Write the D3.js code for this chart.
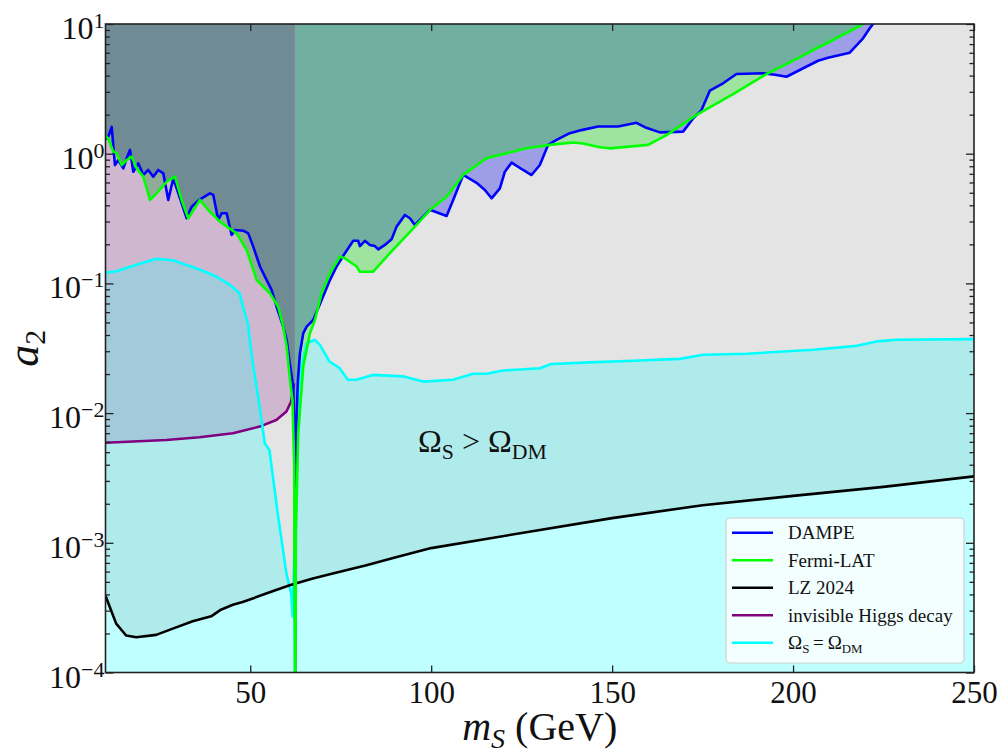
<!DOCTYPE html>
<html lang="en">

<head>
  <title>Scalar singlet a2 constraints</title>
  <meta charset="UTF-8">
  <script src="https://cdn.jsdelivr.net/npm/d3@7"></script>
  <style>
    body {
      margin: 0;
      background: #fff;
    }

    svg {
      display: block;
      font-family: "Liberation Serif", "Times New Roman", "DejaVu Serif", serif;
    }
  </style>
</head>

<body>
  <div id="container"></div>
  <script>
    // curves: [m_S (GeV), a2]
    const dampe = [
      [10.0, 1.30], [10.77, 1.35], [11.71, 1.61], [12.62, 0.818], [13.54, 0.893], [14.92, 0.771],
      [15.86, 0.922], [16.77, 1.07], [17.68, 0.726], [19.06, 0.843], [20.44, 0.686], [21.82, 0.749],
      [23.20, 0.665], [24.59, 0.749], [25.97, 0.706], [27.35, 0.440], [28.73, 0.646], [31.05, 0.415],
      [32.43, 0.318], [33.81, 0.390], [36.10, 0.445], [38.87, 0.495], [39.78, 0.481], [41.16, 0.308],
      [42.10, 0.347], [43.48, 0.347], [44.86, 0.236], [45.77, 0.258], [48.07, 0.255], [49.45, 0.243],
      [50.83, 0.192], [52.68, 0.135], [54.53, 0.106], [55.91, 0.0889], [57.29, 0.0661], [59.12, 0.0463],
      [60.06, 0.0366], [60.97, 0.0235], [61.88, 0.0160], [62.07, 0.0094], [62.35, 0.0043], [62.43, 8e-5],
      [62.54, 0.0043], [62.76, 0.0089], [63.18, 0.018], [63.73, 0.0289], [64.64, 0.0412], [65.58, 0.0464],
      [67.40, 0.0522], [69.72, 0.0745], [72.02, 0.106], [73.87, 0.135], [76.16, 0.171], [78.45, 0.213],
      [79.83, 0.213], [80.30, 0.194], [81.68, 0.213], [83.07, 0.198], [84.45, 0.194], [85.36, 0.183],
      [87.21, 0.198], [89.06, 0.219], [90.44, 0.274], [92.73, 0.337], [94.12, 0.318], [95.50, 0.282],
      [99.64, 0.368], [100.55, 0.362], [104.25, 0.331], [106.08, 0.440], [108.84, 0.686], [112.54, 0.597],
      [114.83, 0.525], [116.69, 0.453], [118.98, 0.541], [120.36, 0.726], [122.21, 0.853], [125.41, 0.749],
      [127.73, 0.685], [130.03, 0.818], [132.32, 1.17], [134.64, 1.28], [138.31, 1.44], [141.55, 1.52],
      [146.13, 1.62], [151.66, 1.62], [156.74, 1.73], [159.03, 1.60], [163.18, 1.46], [169.61, 1.48],
      [172.38, 1.87], [174.70, 2.17], [176.99, 3.06], [180.66, 3.49], [184.36, 4.12], [191.71, 4.17],
      [195.41, 4.04], [198.18, 3.92], [201.85, 4.42], [206.91, 5.21], [209.67, 5.49], [215.66, 6.01],
      [219.34, 7.76], [221.19, 9.27], [222.10, 10.0], [222.8, 11.0]
    ];

    const fermi = [
      [10.0, 1.38], [10.8, 1.30], [12.15, 1.04], [13.09, 1.01], [14.48, 0.818], [15.86, 0.894],
      [17.24, 0.948], [18.62, 0.771], [20.44, 0.665], [22.29, 0.440], [24.14, 0.495], [26.91, 0.608],
      [29.20, 0.665], [31.05, 0.440], [32.87, 0.318], [36.10, 0.440], [38.40, 0.368], [41.63, 0.299],
      [46.24, 0.243], [49.01, 0.181], [51.77, 0.106], [54.53, 0.0889], [55.44, 0.0839], [57.73, 0.0661],
      [59.12, 0.0463], [60.06, 0.0325], [60.97, 0.0180], [61.66, 0.0126], [62.15, 0.00386], [62.35, 8e-5],
      [62.49, 8e-5], [62.62, 0.00119], [63.26, 0.00698], [64.64, 0.0228], [66.49, 0.0412], [67.87, 0.0522],
      [69.72, 0.0839], [72.02, 0.120], [74.78, 0.161], [76.16, 0.156], [79.39, 0.135], [80.30, 0.123],
      [83.98, 0.123], [88.59, 0.171], [95.50, 0.274], [99.64, 0.368], [104.25, 0.466], [108.84, 0.686],
      [115.30, 0.922], [126.35, 1.10], [132.79, 1.17], [139.23, 1.22], [141.99, 1.20], [146.60, 1.12],
      [149.36, 1.10], [159.94, 1.17], [165.03, 1.39], [173.31, 1.99], [183.43, 2.88], [192.65, 4.11],
      [201.85, 5.53], [206.46, 6.50], [211.05, 7.53], [219.34, 10.0], [220.1, 10.4]
    ];

    const lz = [
      [10.0, 3.9e-4], [12.95, 2.38e-4], [15.7, 1.93e-4], [18.5, 1.87e-4], [24.0, 1.95e-4], [28.6, 2.18e-4],
      [34.1, 2.48e-4], [39.2, 2.71e-4], [41.9, 3.05e-4], [45.2, 3.33e-4], [47.9, 3.49e-4], [54.4, 4.06e-4],
      [60.9, 4.70e-4], [67.3, 5.30e-4], [72.8, 5.79e-4], [82.1, 6.71e-4], [90, 7.7e-4], [100, 9.1e-4],
      [125, 1.19e-3], [150, 1.55e-3], [175, 1.95e-3], [200, 2.3e-3], [225, 2.7e-3], [250, 3.25e-3]
    ];

    const higgsInv = [
      [10.0, 5.9e-3], [26.8, 6.21e-3], [36.0, 6.52e-3], [45.2, 7.0e-3], [52.6, 7.87e-3], [57.2, 8.85e-3],
      [60.0, 1.03e-2], [61.3, 1.23e-2], [62.1, 1.70e-2]
    ];

    const omega = [
      [10.0, 0.121], [10.6, 0.122], [13.0, 0.124], [17.5, 0.136], [24.0, 0.155], [28.6, 0.151],
      [36.0, 0.128], [40.6, 0.113], [44.3, 0.098], [47.0, 0.0845], [48.0, 0.0666], [49.3, 0.0495],
      [50.7, 0.0243], [52.6, 0.0112], [54.0, 0.00585], [55.3, 0.00519], [57.6, 0.00168], [60.0, 5.79e-4],
      [61.3, 4.06e-4], [61.71, 2.7e-4], [62.07, 6.5e-4], [62.54, 2.14e-3], [62.82, 5.2e-3], [63.26, 0.0126],
      [64.2, 0.0229], [65.58, 0.0345], [67.8, 0.0368], [69.2, 0.0337], [71.9, 0.0250], [74.7, 0.0222],
      [77.0, 0.0181], [79.3, 0.0181], [83.9, 0.0197], [92.2, 0.0192], [97.7, 0.0175], [106.0, 0.0181],
      [111.6, 0.0201], [115.3, 0.0201], [119.9, 0.0213], [130.0, 0.0222], [133.2, 0.0239], [143.8, 0.0246],
      [155.8, 0.0253], [168.7, 0.0262], [175.2, 0.0282], [187.2, 0.0287], [205.6, 0.0308], [217.6, 0.0330],
      [223.1, 0.0357], [228.6, 0.0368], [250, 0.0372]
    ];

    const halfHiggs = 62.15; // edge of the invisible-decay band
    const xTicks = [50, 100, 150, 200, 250];
    const yExponents = [-4, -3, -2, -1, 0, 1];
    const legendLabels = ['DAMPE', 'Fermi-LAT', 'LZ 2024', 'invisible Higgs decay', 'omega'];
    const legendColors = ['#0000ff', '#00ff00', '#000000', '#800080', '#00ffff'];

    const W = 1002, H = 751;
    const plot = { left: 105.5, right: 974, top: 24, bottom: 672.5 };

    const x = d3.scaleLinear().domain([10, 250]).range([plot.left, plot.right]);
    const y = d3.scaleLog().domain([1e-4, 10]).range([plot.bottom, plot.top]);

    const svg = d3.select('#container').append('svg')
      .attr('width', W)
      .attr('height', H);
    const defs = svg.append('defs');

    const lineGen = d3.line().x(d => x(d[0])).y(d => y(d[1]));
    const above = d3.area().x(d => x(d[0])).y0(0).y1(d => y(d[1]));
    const below = d3.area().x(d => x(d[0])).y0(H).y1(d => y(d[1]));

    function clipRect(id, x0, x1) {
      defs.append('clipPath').attr('id', id).append('rect')
        .attr('x', x0).attr('y', 0).attr('width', x1 - x0).attr('height', H);
    }
    defs.append('clipPath').attr('id', 'plotClip').append('rect')
      .attr('x', plot.left).attr('y', plot.top)
      .attr('width', plot.right - plot.left).attr('height', plot.bottom - plot.top);
    clipRect('leftClip', x(10), x(halfHiggs));
    clipRect('rightClip', x(halfHiggs), x(250));
    defs.append('clipPath').attr('id', 'aboveDampe').append('path').attr('d', above(dampe));
    defs.append('clipPath').attr('id', 'belowOmega').append('path').attr('d', below(omega));

    const g = svg.append('g').attr('clip-path', 'url(#plotClip)');

    // regions
    g.append('rect').attr('x', plot.left).attr('y', plot.top)
      .attr('width', plot.right - plot.left).attr('height', plot.bottom - plot.top)
      .attr('fill', '#e4e4e4');
    g.append('path').attr('d', below(omega)).attr('fill', '#afebea');
    g.append('path').attr('d', below(lz)).attr('fill', '#c0ffff');
    g.append('path').attr('d', above(higgsInv)).attr('fill', '#cfb8cf');
    g.append('path').attr('d', above(higgsInv)).attr('fill', '#a3cadb')
      .attr('clip-path', 'url(#belowOmega)');

    const right = g.append('g').attr('clip-path', 'url(#rightClip)');
    right.append('path').attr('d', above(dampe)).attr('fill', '#9e9ee6');
    right.append('path').attr('d', above(fermi)).attr('fill', '#9ee3a0');
    right.append('path').attr('d', above(fermi)).attr('fill', '#71b0a0')
      .attr('clip-path', 'url(#aboveDampe)');

    const left = g.append('g').attr('clip-path', 'url(#leftClip)');
    left.append('path').attr('d', above(fermi)).attr('fill', '#90ab98');
    left.append('path').attr('d', above(fermi)).attr('fill', '#718b94')
      .attr('clip-path', 'url(#aboveDampe)');

    const edge = higgsInv[higgsInv.length - 1];
    g.append('line')
      .attr('x1', x(edge[0])).attr('x2', x(edge[0]))
      .attr('y1', y(edge[1])).attr('y2', plot.top)
      .attr('stroke', '#7a8799').attr('stroke-width', 1.6);

    // curves
    [[higgsInv, '#800080'], [omega, '#00ffff'], [lz, '#000000'], [dampe, '#0000ff'], [fermi, '#00ff00']]
      .forEach(([data, color]) => {
        g.append('path').attr('d', lineGen(data))
          .attr('fill', 'none').attr('stroke', color)
          .attr('stroke-width', 2.6).attr('stroke-linejoin', 'round');
      });

    // axes, ticks pointing inward
    const minor = [];
    yExponents.slice(0, -1).forEach(e => {
      for (let k = 2; k < 10; k++) minor.push(k * Math.pow(10, e));
    });
    const major = yExponents.map(e => Math.pow(10, e));

    function styleAxis(sel) {
      sel.select('.domain').remove();
      sel.selectAll('.tick line').attr('stroke', '#222').attr('stroke-width', 1.3);
    }
    svg.append('g').attr('transform', `translate(0,${plot.bottom})`)
      .call(d3.axisBottom(x).tickValues(xTicks).tickSize(-7).tickPadding(8))
      .call(styleAxis)
      .attr('font-family', null).attr('font-size', null)
      .call(s => s.selectAll('.tick text')
        .attr('font-size', 31).attr('fill', '#111'));
    svg.append('g').attr('transform', `translate(0,${plot.top})`)
      .call(d3.axisTop(x).tickValues(xTicks).tickSize(-7).tickFormat(''))
      .call(styleAxis);
    [[d3.axisLeft, plot.left], [d3.axisRight, plot.right]].forEach(([ax, pos]) => {
      svg.append('g').attr('transform', `translate(${pos},0)`)
        .call(ax(y).tickValues(major).tickSize(-8).tickFormat(''))
        .call(styleAxis);
      svg.append('g').attr('transform', `translate(${pos},0)`)
        .call(ax(y).tickValues(minor).tickSize(-4.5).tickFormat(''))
        .call(styleAxis);
    });

    // y tick labels 10^n
    yExponents.forEach(e => {
      const t = svg.append('text')
        .attr('x', plot.left - 1).attr('y', y(Math.pow(10, e)) + 15)
        .attr('text-anchor', 'end').attr('font-size', 32).attr('fill', '#111')
        .text('10');
      t.append('tspan').attr('dy', -11).attr('font-size', 22)
        .text(e < 0 ? '\u2212' + Math.abs(e) : String(e));
    });

    svg.append('rect')
      .attr('x', plot.left).attr('y', plot.top)
      .attr('width', plot.right - plot.left).attr('height', plot.bottom - plot.top)
      .attr('fill', 'none').attr('stroke', '#222').attr('stroke-width', 1.6);

    // axis labels
    const xl = svg.append('text')
      .attr('x', (plot.left + plot.right) / 2).attr('y', 740)
      .attr('text-anchor', 'middle').attr('font-size', 40).attr('fill', '#111');
    xl.append('tspan').attr('font-style', 'italic').text('m');
    xl.append('tspan').attr('font-style', 'italic').attr('font-size', 28).attr('dy', 8).text('S');
    xl.append('tspan').attr('dy', -8).text(' (GeV)');

    const yl = svg.append('text')
      .attr('transform', `translate(38,${(plot.top + plot.bottom) / 2}) rotate(-90)`)
      .attr('text-anchor', 'middle').attr('font-size', 44).attr('fill', '#111');
    yl.append('tspan').attr('font-style', 'italic').text('a');
    yl.append('tspan').attr('font-size', 30).attr('dy', 7).text('2');

    // Omega text with subscripts
    function omegaText(sel, size, a, b, op) {
      sel.append('tspan').text('\u03A9');
      sel.append('tspan').attr('font-size', size * 0.68).attr('dy', size * 0.22).text(a);
      sel.append('tspan').attr('dy', -size * 0.22).text(op);
      sel.append('tspan').text('\u03A9');
      sel.append('tspan').attr('font-size', size * 0.68).attr('dy', size * 0.22).text(b);
    }
    const note = svg.append('text').attr('x', 418).attr('y', 452)
      .attr('font-size', 32).attr('fill', '#111');
    omegaText(note, 32, 'S', 'DM', ' > ');

    // legend
    const leg = svg.append('g');
    leg.append('rect')
      .attr('x', 726).attr('y', 518).attr('width', 238).attr('height', 145).attr('rx', 4)
      .attr('fill', 'rgba(255,255,255,0.8)').attr('stroke', '#cfcfcf').attr('stroke-width', 1.2);
    legendLabels.forEach((label, i) => {
      const cy = 532.7 + i * 27.5;
      leg.append('line').attr('x1', 732).attr('x2', 773).attr('y1', cy).attr('y2', cy)
        .attr('stroke', legendColors[i]).attr('stroke-width', 2.6);
      const t = leg.append('text').attr('x', 788).attr('y', cy + 6.5)
        .attr('font-size', 19).attr('fill', '#111');
      if (label === 'omega') omegaText(t, 19, 'S', 'DM', '\u2009=\u2009');
      else t.text(label);
    });
  </script>
</body>

</html>
